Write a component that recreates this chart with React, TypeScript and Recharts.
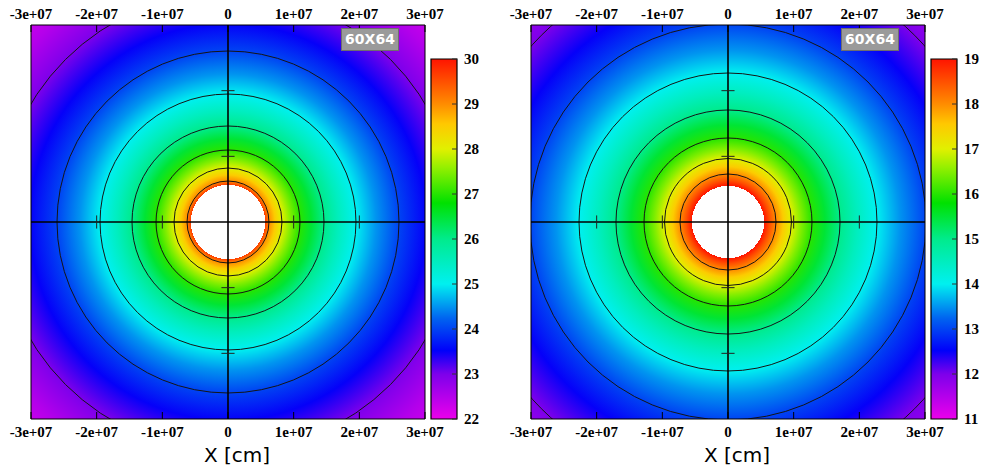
import React from "react";
import {
  ScatterChart,
  ComposedChart,
  XAxis,
  YAxis,
  ReferenceArea,
  ReferenceLine,
} from "recharts";

// frame ticks and the small ticks on the two cross lines (cm)
const AXIS_TICKS = [-3e7, -2e7, -1e7, 0, 1e7, 2e7, 3e7];
const CROSS_TICKS = [-2e7, -1e7, 1e7, 2e7];

// colour scale, from the bottom (0) to the top (1) of the bar
const PALETTE_POS = [0, 0.125, 0.19, 0.28, 0.375, 0.5, 0.6, 0.7, 0.75, 0.82, 0.875, 1];
const PALETTE_RGB = [
  [235, 0, 235],
  [125, 0, 235],
  [0, 0, 250],
  [0, 100, 240],
  [0, 240, 240],
  [0, 235, 140],
  [0, 225, 0],
  [150, 240, 0],
  [225, 240, 0],
  [255, 200, 0],
  [255, 140, 0],
  [255, 20, 0],
];

// left map: value against radius (cm)
const LEFT_SCALE = [22, 23, 24, 25, 26, 27, 28, 29, 30];
const LEFT_HOLE = 5.65e6;
const LEFT_PROFILE_R = [5.65e6, 6.24e6, 7.16e6, 8.22e6, 9.5e6, 1.096e7, 1.266e7, 1.462e7, 1.688e7, 1.949e7, 2.253e7, 2.604e7, 3.02e7, 3.5e7, 4.02e7, 4.3e7];
const LEFT_PROFILE_V = [29.7, 29, 28.5, 28, 27.5, 27, 26.5, 26, 25.5, 25, 24.5, 24, 23.5, 23, 22.5, 22.3];
const LEFT_CONTOURS = [6.24e6, 8.22e6, 1.096e7, 1.462e7, 1.949e7, 2.604e7, 3.5e7];

// right map
const RIGHT_SCALE = [11, 12, 13, 14, 15, 16, 17, 18, 19];
const RIGHT_HOLE = 5.5e6;
const RIGHT_PROFILE_R = [5.5e6, 6.33e6, 7.31e6, 8.41e6, 9.67e6, 1.112e7, 1.279e7, 1.477e7, 1.706e7, 1.967e7, 2.269e7, 2.616e7, 3.015e7, 3.481e7, 4.02e7, 4.3e7];
const RIGHT_PROFILE_V = [19, 18.5, 18, 17.5, 17, 16.5, 16, 15.5, 15, 14.5, 14, 13.5, 13, 12.5, 12, 11.8];
const RIGHT_CONTOURS = [7.31e6, 9.67e6, 1.279e7, 1.706e7, 2.269e7, 3.015e7, 4.02e7];

const R_MAX = 4.3e7;
const SPAN = 6e7;

const serif = { fontFamily: '"Liberation Serif", serif', fontSize: 15, fontWeight: "bold", fill: "#000" };

function colorAt(f: number) {
  const t = Math.max(0, Math.min(1, f));
  let i = 0;
  while (i < PALETTE_POS.length - 2 && t > PALETTE_POS[i + 1]) i++;
  const k = (t - PALETTE_POS[i]) / (PALETTE_POS[i + 1] - PALETTE_POS[i]);
  const a = PALETTE_RGB[i];
  const b = PALETTE_RGB[i + 1];
  const c = a.map((v, j) => Math.round(v + (b[j] - v) * k));
  return `rgb(${c[0]},${c[1]},${c[2]})`;
}

function fmt(v: number) {
  return v === 0 ? "0" : `${v / 1e7}e+07`;
}

// the field fills the whole plot square, and also gives the clip for the rings
const Field = (p: any) => (
  <g>
    <defs>
      <clipPath id={`plot-${p.pid}`}>
        <rect x={p.x} y={p.y} width={p.width} height={p.height} />
      </clipPath>
    </defs>
    <rect x={p.x} y={p.y} width={p.width} height={p.height} fill={`url(#field-${p.pid})`} />
  </g>
);

const Ring = (p: any) => (
  <ellipse
    cx={p.x + p.width / 2}
    cy={p.y + p.height / 2}
    rx={p.width / 2}
    ry={p.height / 2}
    fill="none"
    stroke="#151515"
    strokeWidth={1}
    clipPath={`url(#plot-${p.pid})`}
  />
);

function Gradients({ id, hole, rs, vs, scale }: any) {
  const lo = scale[0];
  const hi = scale[scale.length - 1];
  return (
    <>
      <radialGradient id={`field-${id}`} cx="0.5" cy="0.5" r={R_MAX / SPAN} gradientUnits="objectBoundingBox">
        <stop offset={0} stopColor="#fff" />
        <stop offset={hole / R_MAX} stopColor="#fff" />
        {rs.map((r: number, i: number) => (
          <stop key={i} offset={r / R_MAX} stopColor={colorAt((vs[i] - lo) / (hi - lo))} />
        ))}
      </radialGradient>
      <linearGradient id={`bar-${id}`} x1="0" y1="1" x2="0" y2="0">
        {PALETTE_POS.map((p, i) => (
          <stop key={i} offset={p} stopColor={colorAt(p)} />
        ))}
      </linearGradient>
    </>
  );
}

function Panel({ id, left, contours, scale, tag }: any) {
  const axisProps = {
    type: "number" as const,
    domain: [-3e7, 3e7],
    ticks: AXIS_TICKS,
    interval: 0 as const,
    allowDataOverflow: true,
    tickSize: -7,
    axisLine: { stroke: "#000" },
    tickLine: { stroke: "#000" },
  };
  return (
    <>
      <div style={{ position: "absolute", left, top: 0 }}>
        <ScatterChart width={460} height={471} margin={{ top: 24, left: 30, right: 34, bottom: 51 }}>
          <XAxis
            {...axisProps}
            xAxisId="b"
            dataKey="x"
            orientation="bottom"
            height={1}
            tickMargin={14}
            tickFormatter={fmt}
            tick={serif}
            label={{
              value: "X [cm]",
              position: "bottom",
              offset: 28,
              dx: 9,
              style: { fontFamily: '"DejaVu Sans", sans-serif', fontSize: 20, fill: "#000" },
            }}
          />
          <XAxis {...axisProps} xAxisId="t" dataKey="x" orientation="top" height={1} tickMargin={13} tickFormatter={fmt} tick={serif} />
          <YAxis {...axisProps} yAxisId="l" dataKey="y" orientation="left" width={1} tick={false} />
          <YAxis {...axisProps} yAxisId="r" dataKey="y" orientation="right" width={1} tick={false} />
          <ReferenceArea
            xAxisId="b"
            yAxisId="l"
            x1={-3e7}
            x2={3e7}
            y1={-3e7}
            y2={3e7}
            ifOverflow="hidden"
            shape={(p: any) => <Field {...p} pid={id} />}
          />
          {contours.map((r: number) => (
            <ReferenceArea
              key={r}
              xAxisId="b"
              yAxisId="l"
              x1={-r}
              x2={r}
              y1={-r}
              y2={r}
              ifOverflow="hidden"
              shape={(p: any) => <Ring {...p} pid={id} />}
            />
          ))}
          <ReferenceLine xAxisId="b" yAxisId="l" x={0} stroke="#000" strokeWidth={1.6} />
          <ReferenceLine xAxisId="b" yAxisId="l" y={0} stroke="#000" strokeWidth={1.6} />
          {CROSS_TICKS.map((t) => (
            <ReferenceLine
              key={`h${t}`}
              xAxisId="b"
              yAxisId="l"
              segment={[{ x: -1e6, y: t }, { x: 1e6, y: t }]}
              stroke="#222"
              strokeWidth={1}
            />
          ))}
          {CROSS_TICKS.map((t) => (
            <ReferenceLine
              key={`v${t}`}
              xAxisId="b"
              yAxisId="l"
              segment={[{ x: t, y: -1e6 }, { x: t, y: 1e6 }]}
              stroke="#222"
              strokeWidth={1}
            />
          ))}
        </ScatterChart>
      </div>
      <div
        style={{
          position: "absolute",
          left: left + 341,
          top: 28,
          width: 56,
          height: 21,
          background: "#9a9a9a",
          border: "1px solid #6e6e6e",
          color: "#fff",
          fontFamily: '"DejaVu Sans", sans-serif',
          fontWeight: "bold",
          fontSize: 14,
          lineHeight: "21px",
          textAlign: "center",
        }}
      >
        {tag}
      </div>
      <div style={{ position: "absolute", left: left + 425, top: 0 }}>
        <ComposedChart width={70} height={471} margin={{ top: 59, left: 6, right: 37, bottom: 52 }}>
          <XAxis type="number" dataKey="x" domain={[0, 1]} allowDataOverflow hide />
          <YAxis
            type="number"
            dataKey="y"
            orientation="right"
            domain={[scale[0], scale[scale.length - 1]]}
            allowDataOverflow
            ticks={scale}
            interval={0}
            width={1}
            tickSize={-5}
            tickMargin={12}
            axisLine={false}
            tickLine={{ stroke: "#333" }}
            tick={serif}
          />
          <ReferenceArea
            x1={0}
            x2={1}
            y1={scale[0]}
            y2={scale[scale.length - 1]}
            fill={`url(#bar-${id})`}
            fillOpacity={1}
            stroke="#000"
            strokeWidth={1.2}
          />
        </ComposedChart>
      </div>
    </>
  );
}

export default function App() {
  return (
    <div style={{ position: "absolute", left: 0, top: 0, width: 984, height: 471, background: "#fff" }}>
      <svg width={0} height={0} style={{ position: "absolute" }}>
        <defs>
          <Gradients id="L" hole={LEFT_HOLE} rs={LEFT_PROFILE_R} vs={LEFT_PROFILE_V} scale={LEFT_SCALE} />
          <Gradients id="R" hole={RIGHT_HOLE} rs={RIGHT_PROFILE_R} vs={RIGHT_PROFILE_V} scale={RIGHT_SCALE} />
        </defs>
      </svg>
      <Panel id="L" left={0} contours={LEFT_CONTOURS} scale={LEFT_SCALE} tag="60X64" />
      <Panel id="R" left={500} contours={RIGHT_CONTOURS} scale={RIGHT_SCALE} tag="60X64" />
    </div>
  );
}
